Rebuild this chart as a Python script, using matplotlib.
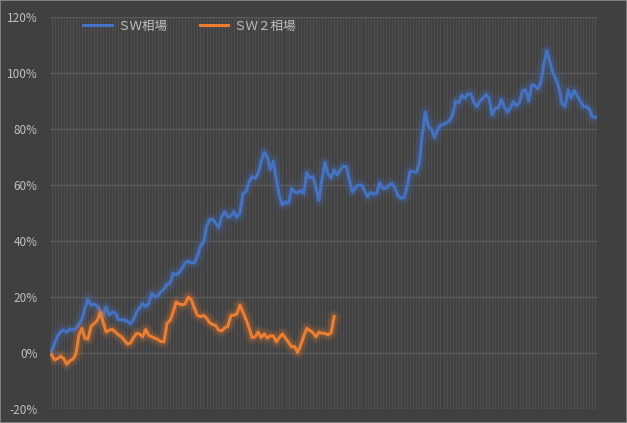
import matplotlib
matplotlib.use("Agg")
import matplotlib.pyplot as plt
from matplotlib.patches import Rectangle

plt.rcParams['font.family'] = ['Noto Sans CJK JP', 'DejaVu Sans']

# SW相場 (percent)
sw_values = [
    0.5, 3.5, 6, 7.6, 8.2, 7.4, 8.6, 8.2, 8.8, 10.3,
    12, 16, 19.2, 17.1, 17.5, 16.8, 15, 13, 16.5, 13.6,
    14.7, 14.2, 12, 11.9, 11.8, 11.3, 10.4, 12, 14.7, 16,
    17.7, 16.5, 17.7, 21.3, 20, 20.5, 21.9, 22.8, 24.5, 24.9,
    28.4, 27.9, 28.8, 30.3, 32.2, 32.8, 32.2, 32.2, 34.5, 38.2,
    39.5, 45.1, 47.6, 47.7, 46.5, 44.8, 48.7, 50.5, 48.5, 48.9,
    50.5, 48.5, 50, 57, 57.6, 61, 63, 62.4, 64.2, 68.5,
    71.7, 70, 65.5, 68.5, 61.8, 56, 52.9, 54, 53.5, 58.8,
    57.5, 57.2, 58, 57, 64.4, 62.5, 63, 59, 54.5, 62,
    68, 64, 62.5, 65.4, 63.6, 65.4, 66.8, 66.6, 62, 57.5,
    59, 60, 60, 58, 55.8, 57.4, 56.7, 57, 60.8, 58.8,
    58.8, 59.7, 60.6, 59, 56.2, 55.3, 55.5, 59.5, 65, 64.7,
    64.5, 67.5, 78, 86, 81, 79.9, 77, 79.5, 81.4, 81.6,
    82.2, 83, 85, 90, 89.4, 92, 91, 92.5, 92.5, 89.5,
    88, 90, 91, 92.3, 91, 85, 87.4, 87.5, 90.5, 88,
    86, 87.5, 89.8, 88.2, 89.5, 93.5, 94, 90, 95.8, 95.5,
    94.3, 96.5, 103, 108, 104, 100, 97.8, 94.5, 89, 88.1,
    94, 91, 93.8, 91.8, 90, 88, 88, 87, 84.3, 84.2,
]

# SW2相場 (percent)
sw2_values = [
    -0.7, -2.4, -2, -1.1, -2, -4, -2.8, -2.2, -0.5, 6.4,
    8.8, 5.3, 5, 9.5, 10.5, 11.5, 14.5, 11, 7.5, 8.2,
    8.4, 7.5, 6.5, 5.8, 4.5, 3.2, 3.6, 5.5, 7, 6.8,
    5.8, 8.4, 6.3, 5.8, 5.3, 4.8, 4.1, 4, 10.6, 11.6,
    14.5, 18.2, 17.5, 17.2, 17.6, 20, 19, 16, 13.5, 13,
    13.4, 12.5, 10.8, 10.2, 9.8, 8.2, 7.9, 9, 9.5, 13.3,
    13.5, 14, 17.1, 14.5, 12, 9, 5.5, 5.8, 7.5, 5.5,
    6.8, 5.3, 6.2, 6, 4, 5.6, 6.8, 5.3, 3.8, 2.2,
    2.3, 0.2, 2.8, 6, 8.8, 8, 7.3, 5.8, 7.4, 7.1,
    7, 6.5, 7.2, 13,
]

series_names = ['ＳＷ相場', 'ＳＷ２相場']
series_colors = ['#4472C4', '#ED7D31']
y_ticks = [-20, 0, 20, 40, 60, 80, 100, 120]

bg = '#404040'
fig = plt.figure(figsize=(6.27, 4.23), dpi=100, facecolor=bg)
ax = fig.add_axes([50 / 627, 14 / 423, 547 / 627, 392 / 423])
ax.set_facecolor(bg)
fig.patches.append(Rectangle((0, 0), 1, 1, transform=fig.transFigure,
                             fill=False, edgecolor='#8c8c8c', linewidth=1.2))

handles = []
for vals, name, col in zip([sw_values, sw2_values], series_names, series_colors):
    xs = list(range(len(vals)))
    # soft glow
    for lw, a in [(10, 0.06), (8, 0.09), (5.5, 0.15)]:
        ax.plot(xs, vals, color=col, linewidth=lw, alpha=a,
                solid_joinstyle='round', solid_capstyle='round')
    h, = ax.plot(xs, vals, color=col, linewidth=2.2,
                 solid_joinstyle='round', label=name)
    handles.append(h)

ax.set_xlim(-0.5, len(sw_values) - 0.5)
ax.set_ylim(-20, 120)
ax.set_yticks(y_ticks)
ax.set_yticklabels([f'{t}%' for t in y_ticks])
ax.set_xticks(range(len(sw_values)))
ax.set_xticklabels([])
ax.grid(axis='x', color='#4d4d4d', linewidth=1.0)
ax.grid(axis='y', color='#5a5a5a', linewidth=1.0)
ax.set_axisbelow(True)
ax.tick_params(axis='both', length=0)
ax.tick_params(axis='y', colors='#bfbfbf', labelsize=8.5, pad=9)
for s in ax.spines.values():
    s.set_visible(False)

ax.legend(handles=handles, loc='upper left', bbox_to_anchor=(0.052, 1.006),
          borderaxespad=0, ncol=2, frameon=False, fontsize=9,
          labelcolor='#bfbfbf', handlelength=2.25, columnspacing=2.6,
          handletextpad=0.45)

fig.savefig('out.png', dpi=100, facecolor=bg)
